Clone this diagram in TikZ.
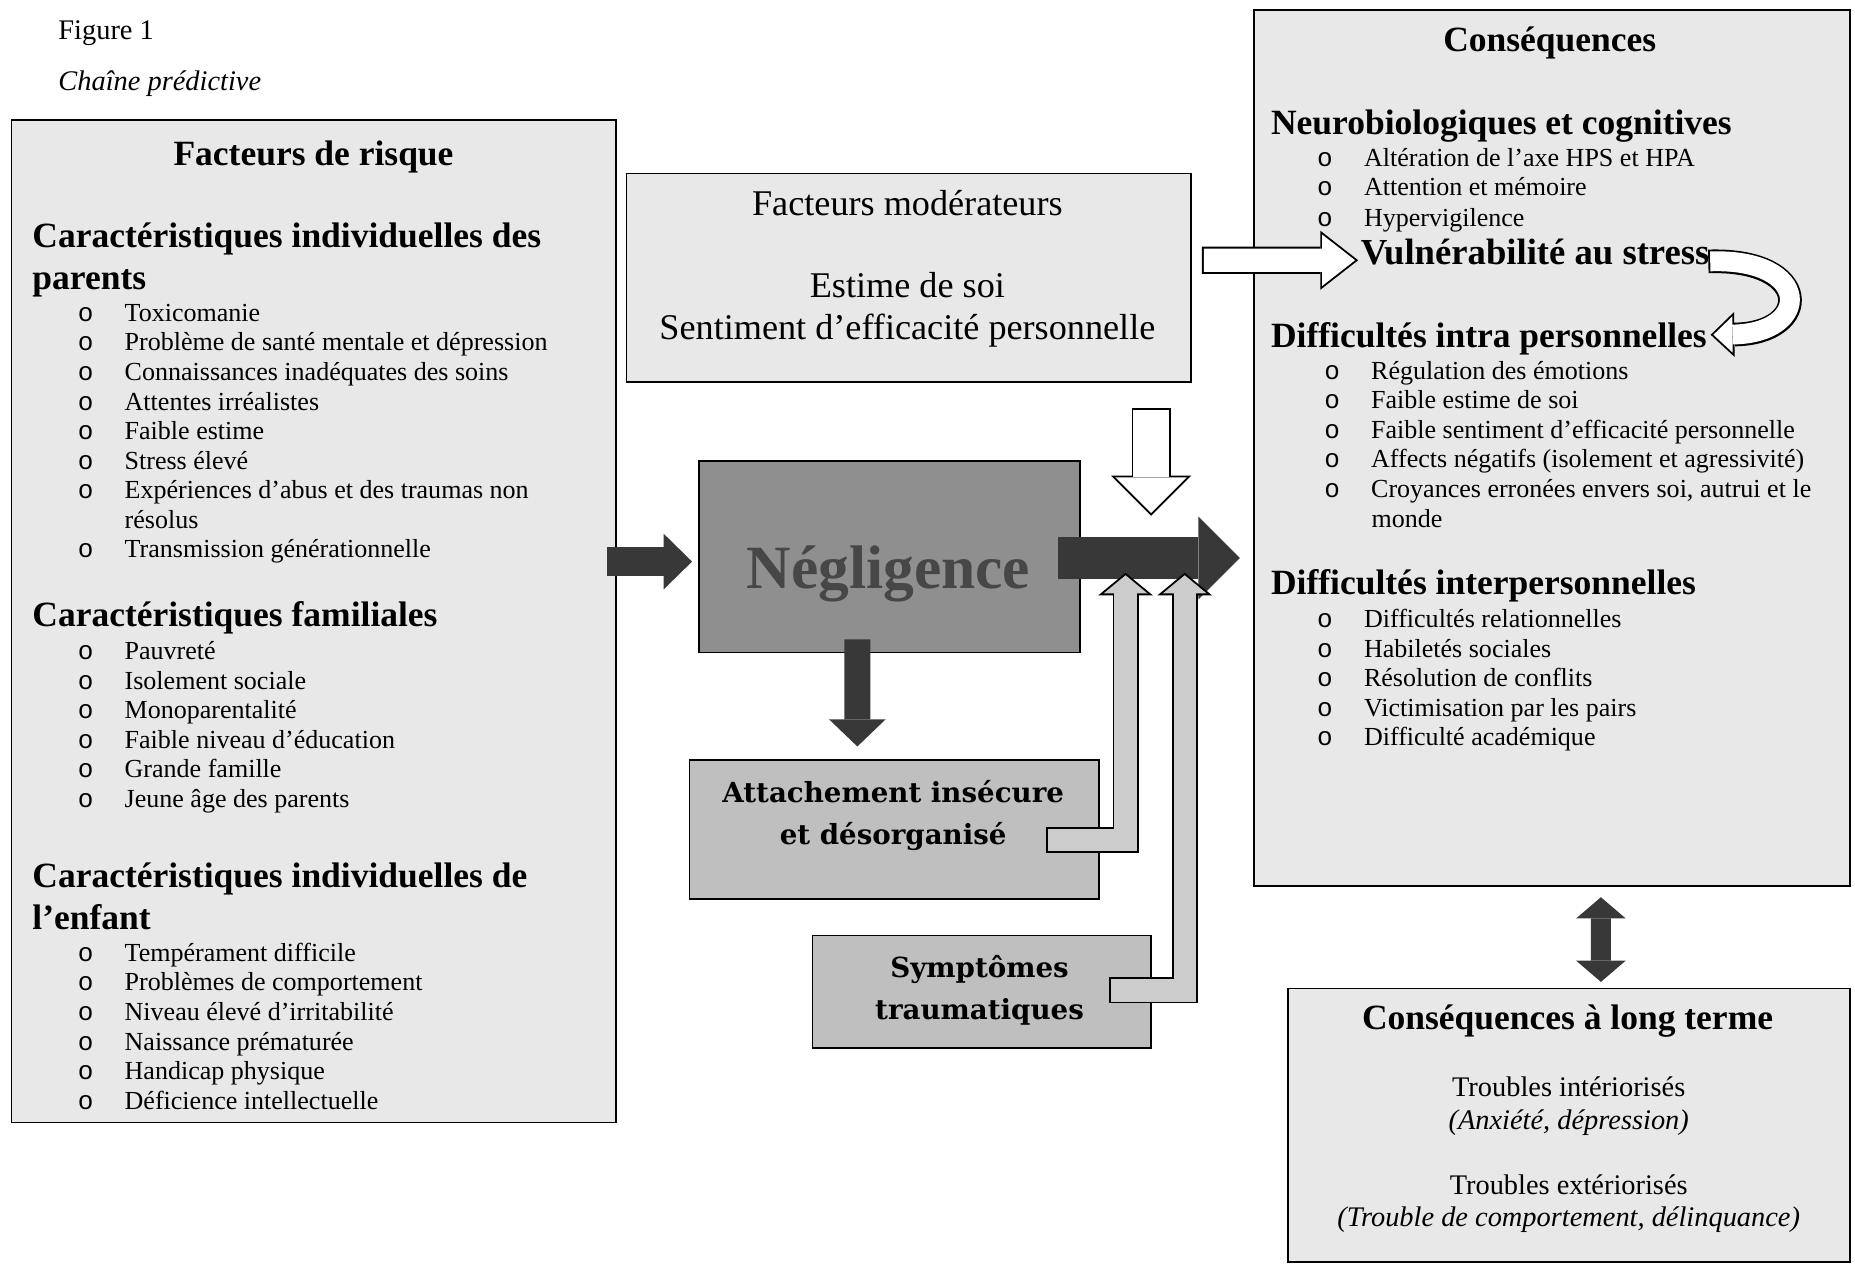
\documentclass[tikz,border=0pt]{standalone}
\usepackage{fontspec}
\setmainfont{Liberation Serif}
\newfontfamily\bulletfont{Liberation Mono}
\newfontfamily\boxfont{DejaVu Serif}
\usetikzlibrary{arrows.meta, calc}

\definecolor{boxgray}{gray}{0.91}
\definecolor{attgray}{gray}{0.75}
\definecolor{neggray}{gray}{0.56}
\definecolor{negtext}{gray}{0.28}
\definecolor{darkarrow}{gray}{0.22}
\definecolor{pipegray}{gray}{0.80}

\newcommand{\bul}{\makebox[19.8pt][l]{\bulletfont o}}

\tikzset{
  box/.style={draw=black, line width=0.7pt, fill=boxgray, inner sep=0pt, anchor=north west},
  boxtitle/.style={font=\fontsize{15}{17.5}\selectfont\bfseries, anchor=mid, inner sep=0pt, yshift=-3pt},
  subhead/.style={font=\fontsize{15}{17.5}\selectfont\bfseries, anchor=mid west, inner sep=0pt, yshift=-3pt},
  listitem/.style={font=\fontsize{11}{12.5}\selectfont, anchor=mid west, inner sep=0pt, yshift=-2pt},
  midtext/.style={font=\fontsize{15.3}{17.5}\selectfont, anchor=mid, inner sep=0pt, yshift=-3pt},
  longtext/.style={font=\fontsize{12}{14}\selectfont, anchor=mid, inner sep=0pt, yshift=-2pt},
  captext/.style={font=\fontsize{12}{14}\selectfont, anchor=mid west, inner sep=0pt, yshift=-2pt},
  attext/.style={font=\fontsize{11.7}{17.5}\selectfont\boxfont\bfseries, anchor=mid, inner sep=0pt, yshift=-2.5pt}
}

\begin{document}
\begin{tikzpicture}[x=50pt, y=50pt]
\useasboundingbox (0,0) rectangle (15.68,10.68);

% caption
\node[captext] (fig) at (0.49,10.43) {Figure 1};
\node[captext, font=\fontsize{12}{14}\selectfont\itshape] (cap) at (0.49,10.00) {Chaîne prédictive};

% boxes
\node[box, minimum width=255.5pt, minimum height=423.5pt] (risk) at (0.09,9.67) {};
\node[box, minimum width=238.5pt, minimum height=88pt] (mod) at (5.29,9.22) {};
\node[box, fill=neggray, minimum width=161pt, minimum height=81pt] (neg) at (5.90,6.79) {};
\node[box, fill=attgray, minimum width=173pt, minimum height=58.5pt] (att) at (5.82,4.26) {};
\node[box, fill=attgray, minimum width=143pt, minimum height=47.5pt] (sym) at (6.86,2.78) {};
\node[box, minimum width=252pt, minimum height=370pt] (cons) at (10.59,10.60) {};
\node[box, minimum width=237.5pt, minimum height=115.5pt] (long) at (10.88,2.33) {};

% risk factors
\node[boxtitle] (riskt) at (2.65,9.39) {Facteurs de risque};
\node[subhead] (parh1) at (0.27,8.69) {Caractéristiques individuelles des};
\node[subhead] (parh2) at (0.27,8.34) {parents};
\node[listitem] (par1) at (0.654,8.05) {\bul Toxicomanie};
\node[listitem] (par2) at (0.654,7.80) {\bul Problème de santé mentale et dépression};
\node[listitem] (par3) at (0.654,7.55) {\bul Connaissances inadéquates des soins};
\node[listitem] (par4) at (0.654,7.30) {\bul Attentes irréalistes};
\node[listitem] (par5) at (0.654,7.05) {\bul Faible estime};
\node[listitem] (par6) at (0.654,6.80) {\bul Stress élevé};
\node[listitem] (par7) at (0.654,6.55) {\bul Expériences d’abus et des traumas non};
\node[listitem] (par7b) at (1.05,6.30) {résolus};
\node[listitem] (par8) at (0.654,6.05) {\bul Transmission générationnelle};

\node[subhead] (famh) at (0.27,5.49) {Caractéristiques familiales};
\node[listitem] (fam1) at (0.654,5.19) {\bul Pauvreté};
\node[listitem] (fam2) at (0.654,4.94) {\bul Isolement sociale};
\node[listitem] (fam3) at (0.654,4.69) {\bul Monoparentalité};
\node[listitem] (fam4) at (0.654,4.44) {\bul Faible niveau d’éducation};
\node[listitem] (fam5) at (0.654,4.19) {\bul Grande famille};
\node[listitem] (fam6) at (0.654,3.94) {\bul Jeune âge des parents};

\node[subhead] (enfh1) at (0.27,3.28) {Caractéristiques individuelles de};
\node[subhead] (enfh2) at (0.27,2.93) {l’enfant};
\node[listitem] (enf1) at (0.654,2.64) {\bul Tempérament difficile};
\node[listitem] (enf2) at (0.654,2.39) {\bul Problèmes de comportement};
\node[listitem] (enf3) at (0.654,2.14) {\bul Niveau élevé d’irritabilité};
\node[listitem] (enf4) at (0.654,1.89) {\bul Naissance prématurée};
\node[listitem] (enf5) at (0.654,1.64) {\bul Handicap physique};
\node[listitem] (enf6) at (0.654,1.39) {\bul Déficience intellectuelle};

% moderators
\node[midtext] (modt) at (7.67,8.96) {Facteurs modérateurs};
\node[midtext] (mod1) at (7.67,8.27) {Estime de soi};
\node[midtext] (mod2) at (7.67,7.92) {Sentiment d’efficacité personnelle};

% neglect and its effects
\node[anchor=mid, inner sep=0pt, yshift=-6.5pt, text=negtext, font=\fontsize{26}{30}\selectfont\bfseries] (negt) at (7.51,5.88) {Négligence};
\node[attext] (att1) at (7.55,3.99) {Attachement insécure};
\node[attext] (att2) at (7.55,3.64) {et désorganisé};
\node[attext] (sym1) at (8.28,2.51) {Symptômes};
\node[attext] (sym2) at (8.28,2.16) {traumatiques};

% consequences
\node[boxtitle] (const) at (13.10,10.35) {Conséquences};
\node[subhead] (neuroh) at (10.74,9.65) {Neurobiologiques et cognitives};
\node[listitem] (neuro1) at (11.13,9.36) {\bul Altération de l’axe HPS et HPA};
\node[listitem] (neuro2) at (11.13,9.11) {\bul Attention et mémoire};
\node[listitem] (neuro3) at (11.13,8.85) {\bul Hypervigilence};
\node[subhead, font=\fontsize{15.5}{17.5}\selectfont\bfseries] (vul) at (11.50,8.55) {Vulnérabilité au stress};

\node[subhead] (intrah) at (10.74,7.85) {Difficultés intra personnelles};
\node[listitem] (intra1) at (11.19,7.56) {\bul Régulation des émotions};
\node[listitem] (intra2) at (11.19,7.31) {\bul Faible estime de soi};
\node[listitem] (intra3) at (11.19,7.06) {\bul Faible sentiment d’efficacité personnelle};
\node[listitem] (intra4) at (11.19,6.81) {\bul Affects négatifs (isolement et agressivité)};
\node[listitem] (intra5) at (11.19,6.56) {\bul Croyances erronées envers soi, autrui et le};
\node[listitem] (intra5b) at (11.59,6.31) {monde};

\node[subhead] (interh) at (10.74,5.76) {Difficultés interpersonnelles};
\node[listitem] (inter1) at (11.13,5.46) {\bul Difficultés relationnelles};
\node[listitem] (inter2) at (11.13,5.21) {\bul Habiletés sociales};
\node[listitem] (inter3) at (11.13,4.96) {\bul Résolution de conflits};
\node[listitem] (inter4) at (11.13,4.71) {\bul Victimisation par les pairs};
\node[listitem] (inter5) at (11.13,4.46) {\bul Difficulté académique};

% long term
\node[boxtitle] (longt) at (13.25,2.08) {Conséquences à long terme};
\node[longtext] (long1) at (13.26,1.50) {Troubles intériorisés};
\node[longtext, font=\fontsize{12}{14}\selectfont\itshape] (long2) at (13.26,1.22) {(Anxiété, dépression)};
\node[longtext] (long3) at (13.26,0.67) {Troubles extériorisés};
\node[longtext, font=\fontsize{12}{14}\selectfont\itshape] (long4) at (13.26,0.40) {(Trouble de comportement, délinquance)};

% free ends of the open arrows
\coordinate (modin) at (9.73,7.23);
\coordinate (modout) at (9.73,6.32);
\coordinate (stressin) at (10.16,8.48);
\coordinate (loopstart) at (14.44,8.47);
\coordinate (loopend) at (14.46,7.85);

% dark arrows
\draw[darkarrow, line width=12pt, -{Triangle[width=23.5pt, length=12pt, line width=0pt]}] ($(neg.west)+(-0.77,-0.04)$) -- ($(neg.west)+(-0.05,-0.04)$);
\draw[darkarrow, line width=17.5pt, -{Triangle[width=35pt, length=17.5pt, line width=0pt]}] ($(neg.east)+(-0.19,-0.01)$) -- ($(cons.west |- neg.east)+(-0.11,-0.01)$);
\draw[darkarrow, line width=11pt, -{Triangle[width=24pt, length=11.5pt, line width=0pt]}] ($(neg.south)+(-0.27,0.12)$) -- ($(att.north)+(-0.31,0.11)$);
\draw[darkarrow, line width=8.5pt, {Triangle[width=21pt, length=9pt, line width=0pt]}-{Triangle[width=21pt, length=9pt, line width=0pt]}] ($(cons.south)+(0.415,-0.09)$) -- ($(long.north)+(0.27,0.05)$);

% open arrows
\draw[black, line width=16.5pt, -{Triangle[width=34pt, length=17pt, line width=0pt]}] (modin) -- (modout);
\draw[white, line width=14.9pt, shorten <=0.8pt, shorten >=1.13pt, -{Triangle[width=30.1pt, length=15.07pt, line width=0pt]}] (modin) -- (modout);

\draw[black, line width=11.5pt, -{Triangle[width=25pt, length=16pt, line width=0pt]}] (stressin) -- ($(vul.mid west)+(-0.02,-0.01)$);
\draw[white, line width=9.9pt, shorten <=0.8pt, shorten >=1.3pt, -{Triangle[width=21.7pt, length=13.9pt, line width=0pt]}] (stressin) -- ($(vul.mid west)+(-0.02,-0.01)$);

\draw[black, line width=10pt, -{Triangle[width=19pt, length=10pt, line width=0pt]}] (loopstart) .. controls (15.32,8.50) and (15.32,7.86) .. (loopend);
\draw[white, line width=8.4pt, shorten <=0.8pt, shorten >=1.16pt, -{Triangle[width=15.3pt, length=8.04pt, line width=0pt]}] (loopstart) .. controls (15.32,8.50) and (15.32,7.86) .. (loopend);

\draw[black, line width=11pt, line join=miter, -{Triangle[width=23pt, length=9.5pt, line width=0pt]}] ($(att.east)+(-0.45,-0.09)$) -- ++(0.67,0) -- ++(0,2.26);
\draw[pipegray, line width=9.4pt, line join=miter, shorten <=0.8pt, shorten >=1.04pt, -{Triangle[width=18.5pt, length=7.66pt, line width=0pt]}] ($(att.east)+(-0.45,-0.09)$) -- ++(0.67,0) -- ++(0,2.26);

\draw[black, line width=11pt, line join=miter, -{Triangle[width=23pt, length=9.5pt, line width=0pt]}] ($(sym.east)+(-0.36,0.01)$) -- ++(0.64,0) -- ++(0,3.53);
\draw[pipegray, line width=9.4pt, line join=miter, shorten <=0.8pt, shorten >=1.04pt, -{Triangle[width=18.5pt, length=7.66pt, line width=0pt]}] ($(sym.east)+(-0.36,0.01)$) -- ++(0.64,0) -- ++(0,3.53);

\end{tikzpicture}
\end{document}
